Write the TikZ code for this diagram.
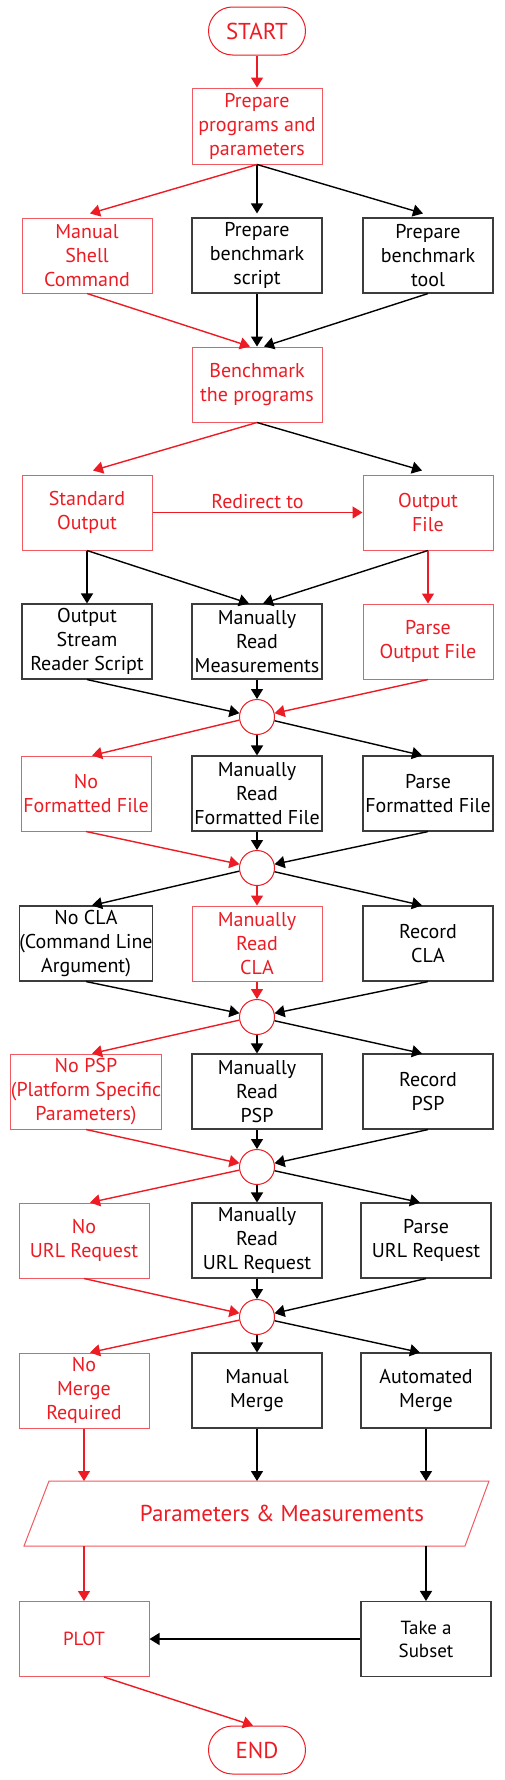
\documentclass[tikz,border=0pt]{standalone}
\usepackage{fontspec}
\setmainfont{PT Sans}
\usetikzlibrary{arrows.meta,calc}
\definecolor{myred}{HTML}{ED1C24}
\definecolor{rborder}{HTML}{F15A60}
\definecolor{bborder}{HTML}{3C3C3C}
\begin{document}
\begin{tikzpicture}[x=1pt,y=-1pt,
 txt/.style={font=\fontsize{20}{24}\selectfont, align=center, inner sep=0pt},
 rbox/.style={txt, draw=rborder, text=myred, line width=1pt, minimum width=130pt, minimum height=75pt},
 bbox/.style={txt, draw=bborder, text=black, line width=1.1pt, minimum width=130pt, minimum height=75pt},
 junc/.style={circle, draw=myred, line width=1pt, minimum size=35pt, inner sep=0pt},
 term/.style={txt, draw=myred, text=myred, line width=1pt, minimum width=97pt, minimum height=48pt, rounded corners=24pt, font=\fontsize{23}{26}\selectfont},
 ra/.style={draw=myred, line width=1.4pt, -{Triangle[length=10pt,width=12pt]}},
 ba/.style={draw=black, line width=1.4pt, -{Triangle[length=10pt,width=12pt]}},
]
\useasboundingbox (0,0) rectangle (504,1780);
\fill[white] (0,0) rectangle (504,1780);

\node[term] (start) at (257,31) {START};
\node[rbox, minimum height=76pt] (prep) at (257,126) {Prepare\\programs and\\parameters};
\node[rbox] (shell) at (87,255.5) {Manual\\Shell\\Command};
\node[bbox] (script) at (257,255.5) {Prepare\\benchmark\\script};
\node[bbox] (tool) at (428,255.5) {Prepare\\benchmark\\tool};
\node[rbox] (bench) at (257,384.5) {Benchmark\\the programs};
\node[rbox] (stdout) at (87,512.5) {Standard\\Output};
\node[rbox] (outfile) at (428,512.5) {Output\\File};
\node[bbox] (osr) at (87,641.5) {Output\\Stream\\Reader Script};
\node[bbox] (mrm) at (257,641.5) {Manually\\Read\\Measurements};
\node[rbox] (pof) at (428,641.5) {Parse\\Output File};
\node[junc] (c1) at (257,717) {};
\node[rbox] (nff) at (86,793.5) {No\\Formatted File};
\node[bbox] (mrff) at (257,793.5) {Manually\\Read\\Formatted File};
\node[bbox] (pff) at (428,793.5) {Parse\\Formatted File};
\node[junc] (c2) at (257,868) {};
\node[bbox] (nocla) at (86,943.5) {No CLA\\(Command Line\\Argument)};
\node[rbox] (mrcla) at (257,943.5) {Manually\\Read\\CLA};
\node[bbox] (rcla) at (428,943.5) {Record\\CLA};
\node[junc] (c3) at (257,1017) {};
\node[rbox] (nopsp) at (86,1091.5) {No PSP\\(Platform Specific\\Parameters)};
\node[bbox] (mrpsp) at (257,1091.5) {Manually\\Read\\PSP};
\node[bbox] (rpsp) at (428,1091.5) {Record\\PSP};
\node[junc] (c4) at (257,1167) {};
\node[rbox] (nourl) at (84,1240.5) {No\\URL Request};
\node[bbox] (mrurl) at (257,1240.5) {Manually\\Read\\URL Request};
\node[bbox] (purl) at (426,1240.5) {Parse\\URL Request};
\node[junc] (c5) at (257,1317) {};
\node[rbox] (nomerge) at (84,1390.5) {No\\Merge\\Required};
\node[bbox] (mm) at (257,1390.5) {Manual\\Merge};
\node[bbox] (am) at (426,1390.5) {Automated\\Merge};

\coordinate (pmTL) at (49,1481);
\coordinate (pmTR) at (489,1481);
\coordinate (pmBR) at (465,1546);
\coordinate (pmBL) at (24,1546);
\draw[draw=rborder, line width=1pt] (pmTL) -- (pmTR) -- (pmBR) -- (pmBL) -- cycle;
\node[txt, text=myred, font=\fontsize{23}{27}\selectfont] (pm) at (282,1513) {Parameters \& Measurements};

\node[rbox, font=\fontsize{19}{23}\selectfont] (plot) at (84,1639) {PLOT};
\node[bbox, font=\fontsize{19}{23}\selectfont] (subset) at (426,1639) {Take a\\Subset};
\node[term] (end) at (257,1750) {END};

% top part
\draw[ra] (start) -- (prep);
\draw[ra] (prep.south) -- ($(shell.north)+(3,-4)$);
\draw[ba] (prep.south) -- ($(script.north)+(0,-4)$);
\draw[ba] (prep.south) -- ($(tool.north)+(-5,-4)$);
\draw[ra] (shell.south) -- ($(bench.north)+(-7,0)$);
\draw[ba] (script.south) -- (bench.north);
\draw[ba] (tool.south) -- ($(bench.north)+(7,0)$);
\draw[ra] (bench.south) -- ($(stdout.north)+(6,-4)$);
\draw[ba] (bench.south) -- ($(outfile.north)+(-6,-4)$);
\draw[ra] (stdout.east) -- node[txt, text=myred, above=3pt] {Redirect to} (outfile.west);
\draw[ba] (stdout.south) -- (osr.north);
\draw[ba] (stdout.south) -- ($(mrm.north)+(-8,0)$);
\draw[ba] (outfile.south) -- ($(mrm.north)+(6,0)$);
\draw[ra] (outfile.south) -- (pof.north);

% junction 1
\draw[ba] (osr.south) -- (c1.168);
\draw[ba] (mrm.south) -- (c1.north);
\draw[ra] (pof.south) -- (c1.12);
\draw[ra] (c1.190) -- ($(nff.north)+(6,0)$);
\draw[ba] (c1.south) -- (mrff.north);
\draw[ba] (c1.-12) -- ($(pff.north)+(-6,0)$);

% junction 2
\draw[ra] (nff.south) -- (c2.168);
\draw[ba] (mrff.south) -- (c2.north);
\draw[ba] (pff.south) -- (c2.12);
\draw[ba] (c2.190) -- ($(nocla.north)+(6,0)$);
\draw[ra] (c2.south) -- (mrcla.north);
\draw[ba] (c2.-12) -- ($(rcla.north)+(-6,0)$);

% junction 3
\draw[ba] (nocla.south) -- (c3.168);
\draw[ra] (mrcla.south) -- (c3.north);
\draw[ba] (rcla.south) -- (c3.12);
\draw[ra] (c3.190) -- ($(nopsp.north)+(6,0)$);
\draw[ba] (c3.south) -- (mrpsp.north);
\draw[ba] (c3.-12) -- ($(rpsp.north)+(-6,0)$);

% junction 4
\draw[ra] (nopsp.south) -- (c4.168);
\draw[ba] (mrpsp.south) -- (c4.north);
\draw[ba] (rpsp.south) -- (c4.12);
\draw[ra] (c4.190) -- ($(nourl.north)+(6,0)$);
\draw[ba] (c4.south) -- (mrurl.north);
\draw[ba] (c4.-12) -- ($(purl.north)+(-6,0)$);

% junction 5
\draw[ra] (nourl.south) -- (c5.168);
\draw[ba] (mrurl.south) -- (c5.north);
\draw[ba] (purl.south) -- (c5.12);
\draw[ra] (c5.190) -- ($(nomerge.north)+(6,0)$);
\draw[ba] (c5.south) -- (mm.north);
\draw[ba] (c5.-12) -- ($(am.north)+(-6,0)$);

% bottom
\draw[ra] (nomerge.south) -- (nomerge.south |- pmTL);
\draw[ba] (mm.south) -- (mm.south |- pmTL);
\draw[ba] (am.south) -- (am.south |- pmTL);
\draw[ra] (pmBL -| plot.north) -- (plot.north);
\draw[ba] (pmBL -| subset.north) -- (subset.north);
\draw[ba] (subset.west) -- (plot.east);
\draw[ra] ($(plot.south)+(20,0)$) -- ($(end.north)+(-4,0)$);
\end{tikzpicture}
\end{document}
